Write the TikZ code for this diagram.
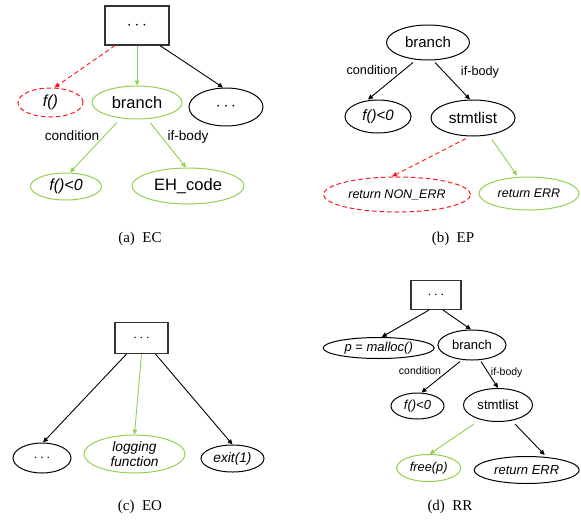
\documentclass[tikz,border=0pt]{standalone}
\usepackage{fontspec}
\setsansfont{Liberation Sans}
\setmainfont{Liberation Serif}
\usetikzlibrary{shapes.geometric,arrows.meta}
\definecolor{lgreen}{RGB}{146,208,80}
\definecolor{lred}{RGB}{255,20,20}
\begin{document}
\begin{tikzpicture}[x=1pt,y=-1pt,
  el/.style={draw,ellipse,inner sep=0pt,line width=1pt,font=\sffamily},
  bx/.style={draw,rectangle,inner sep=0pt,line width=1.1pt,draw=black!80},
  gr/.style={draw=lgreen},
  rd/.style={draw=lred,dashed,dash pattern=on 4.5pt off 3pt},
  arr/.style={-{Triangle[length=5pt,width=4.5pt]},line width=0.9pt},
  garr/.style={arr,lgreen},
  rarr/.style={arr,lred,dash pattern=on 4.5pt off 3pt},
  lab/.style={font=\sffamily},
  capt/.style={font=\fontsize{15}{17}\selectfont}
]
\useasboundingbox (0,0) rectangle (581,520);
% ---------- (a) EC
\node[bx,minimum width=64pt,minimum height=39pt,font=\fontsize{19}{20}\selectfont] (a0) at (137,25.5) {$\cdots$};
\node[el,rd,minimum width=65pt,minimum height=29pt,font=\sffamily\itshape\fontsize{16}{18}\selectfont] (af) at (50.5,102.5) {f()};
\node[el,gr,minimum width=90pt,minimum height=33pt,font=\sffamily\fontsize{16.5}{18}\selectfont] (ab) at (137,102.5) {branch};
\node[el,minimum width=74pt,minimum height=38pt,font=\fontsize{18}{20}\selectfont] (ad) at (226,107) {$\cdots$};
\node[el,gr,minimum width=71pt,minimum height=27pt,font=\sffamily\itshape\fontsize{16}{18}\selectfont] (ac) at (66,186.5) {f()<0};
\node[el,gr,minimum width=112pt,minimum height=36pt,font=\sffamily\fontsize{16.5}{18}\selectfont] (ae) at (188,186) {EH\_code};
\draw[rarr] ([xshift=-22pt]a0.south) -- ([xshift=4pt]af.north);
\draw[garr] (a0.south) -- (ab.north);
\draw[arr] ([xshift=23pt]a0.south) -- ([xshift=-3pt]ad.north);
\draw[garr] ([xshift=-20pt,yshift=-3pt]ab.south) -- ([xshift=4pt]ac.north);
\draw[garr] ([xshift=13pt,yshift=-3pt]ab.south) -- ([xshift=-2pt]ae.north);
\node[lab,font=\sffamily\fontsize{13.6}{15}\selectfont] (acl) at (72,136) {condition};
\node[lab,font=\sffamily\fontsize{13.6}{15}\selectfont] (ail) at (188,137) {if-body};
\node[capt] (acap) at (140,239) {(a)\enspace EC};
% ---------- (b) EP
\node[el,minimum width=83pt,minimum height=35pt,font=\sffamily\fontsize{15}{17}\selectfont] (bb) at (428,42.5) {branch};
\node[el,minimum width=66pt,minimum height=33pt,font=\sffamily\itshape\fontsize{15}{17}\selectfont] (bc) at (378,116.5) {f()<0};
\node[el,minimum width=84pt,minimum height=36pt,font=\sffamily\fontsize{15.5}{17}\selectfont] (bs) at (473,118) {stmtlist};
\node[el,rd,minimum width=147pt,minimum height=35pt,font=\sffamily\itshape\fontsize{12.5}{14}\selectfont] (bn) at (397,194.5) {return NON\_ERR};
\node[el,gr,minimum width=100pt,minimum height=33pt,font=\sffamily\itshape\fontsize{12.5}{14}\selectfont] (be) at (529,193.5) {return ERR};
\draw[arr] ([xshift=-15pt,yshift=-2pt]bb.south) -- ([xshift=-10pt]bc.north);
\draw[arr] ([xshift=7pt,yshift=-2pt]bb.south) -- ([xshift=-3pt]bs.north);
\draw[rarr] ([xshift=-7pt,yshift=-2pt]bs.south) -- ([xshift=-5pt]bn.north);
\draw[garr] ([xshift=19pt,yshift=-3pt]bs.south) -- ([xshift=-12pt,yshift=1pt]be.north);
\node[lab,font=\sffamily\fontsize{12.7}{14}\selectfont] (bcl) at (372,70) {condition};
\node[lab,font=\sffamily\fontsize{12.7}{14}\selectfont] (bil) at (480,72) {if-body};
\node[capt] (bcap) at (453,239) {(b)\enspace EP};
% ---------- (c) EO
\node[bx,minimum width=53pt,minimum height=31pt,font=\fontsize{14}{16}\selectfont] (c0) at (141.5,338) {$\cdots$};
\node[el,minimum width=58pt,minimum height=30pt,font=\fontsize{14}{16}\selectfont] (cd) at (42,458) {$\cdots$};
\node[el,gr,minimum width=101pt,minimum height=38pt,align=center,font=\sffamily\itshape\fontsize{13.7}{14.5}\selectfont] (cl) at (134.5,454) {logging\\function};
\node[el,minimum width=63pt,minimum height=27pt,font=\sffamily\itshape\fontsize{13.7}{15}\selectfont] (cx) at (232.5,458.5) {exit(1)};
\draw[arr] ([xshift=-15pt]c0.south) -- ([xshift=1pt]cd.north);
\draw[garr] ([xshift=0pt]c0.south) -- ([xshift=0pt]cl.north);
\draw[arr] ([xshift=14pt]c0.south) -- ([xshift=0pt]cx.north);
\node[capt] (ccap) at (140,506.7) {(c)\enspace EO};
% ---------- (d) RR
\node[bx,minimum width=50pt,minimum height=29pt,font=\fontsize{14}{16}\selectfont] (d0) at (436,295) {$\cdots$};
\node[el,minimum width=111pt,minimum height=21pt,font=\sffamily\itshape\fontsize{13}{15}\selectfont] (dm) at (378.7,348) {p {\upshape=} malloc()};
\node[el,minimum width=68pt,minimum height=30pt,font=\sffamily\fontsize{13}{15}\selectfont] (db) at (472,345) {branch};
\node[el,minimum width=53pt,minimum height=26pt,font=\sffamily\itshape\fontsize{13}{15}\selectfont] (dc) at (417.5,406) {f()<0};
\node[el,minimum width=69pt,minimum height=33pt,font=\sffamily\fontsize{13.2}{15}\selectfont] (ds) at (498,405) {stmtlist};
\node[el,gr,minimum width=64pt,minimum height=27pt,font=\sffamily\itshape\fontsize{12.8}{15}\selectfont] (df) at (428.7,468) {free(p)};
\node[el,minimum width=105pt,minimum height=27pt,font=\sffamily\itshape\fontsize{13}{15}\selectfont] (de) at (526.7,470) {return ERR};
\draw[arr] ([xshift=-7pt]d0.south) -- ([xshift=3pt]dm.north);
\draw[arr] ([xshift=7pt]d0.south) -- ([xshift=-1pt]db.north);
\draw[arr] ([xshift=-12pt,yshift=-1pt]db.south) -- ([xshift=4pt]dc.north);
\draw[arr] ([xshift=9pt,yshift=-1pt]db.south) -- ([xshift=0pt]ds.north);
\draw[garr] ([xshift=-24pt,yshift=-2pt]ds.south) -- ([xshift=1pt]df.north);
\draw[arr] ([xshift=17pt,yshift=-2pt]ds.south) -- ([xshift=18pt,yshift=1pt]de.north);
\node[lab,font=\sffamily\fontsize{10.5}{12}\selectfont] (dcl) at (420,371) {condition};
\node[lab,font=\sffamily\fontsize{10.5}{12}\selectfont] (dil) at (506.7,372.7) {if-body};
\node[capt] (dcap) at (450,506.7) {(d)\enspace RR};
\end{tikzpicture}
\end{document}
